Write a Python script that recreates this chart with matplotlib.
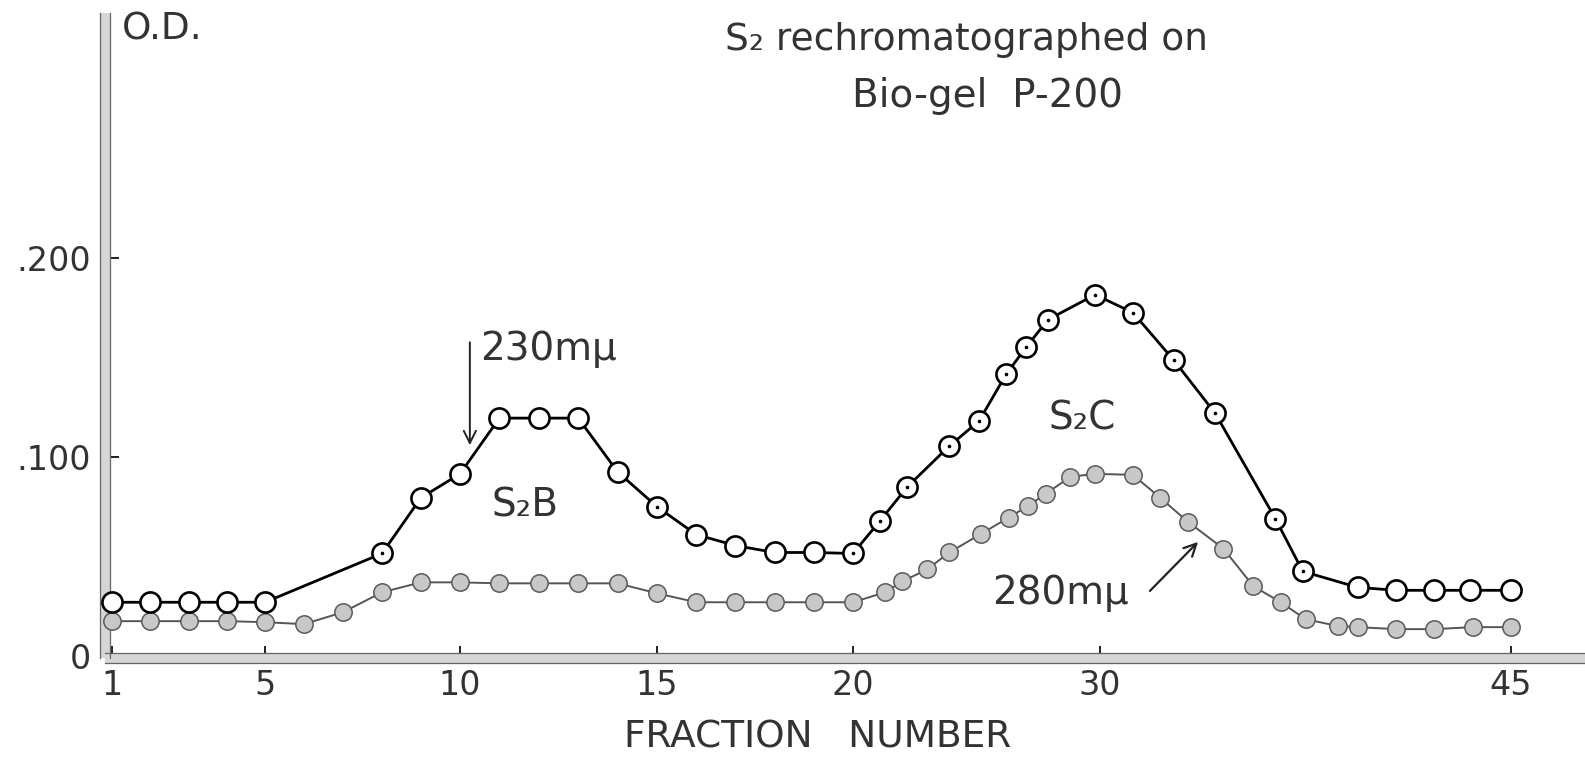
import numpy as np
import matplotlib
matplotlib.use('Agg')
import matplotlib.pyplot as plt
from matplotlib.transforms import offset_copy

# O.D. at 230 mu (open circles) and 280 mu (shaded circles) per fraction
fraction_230 = [1, 2, 3, 4, 5, 8, 9, 10, 11, 12, 13, 14, 15, 16, 17, 18, 19, 20,
                21.1, 22.2, 23.9, 25.1, 26.2, 27.0, 27.9, 29.8,
                31.2, 32.7, 34.2, 36.4, 37.4, 39.4, 40.8, 42.2, 43.5, 45]
od_230 = [0.027, 0.027, 0.027, 0.027, 0.027, 0.0515, 0.0795, 0.0915, 0.1195, 0.1195,
          0.1195, 0.0925, 0.075, 0.061, 0.0555, 0.052, 0.052, 0.0515,
          0.068, 0.085, 0.1055, 0.118, 0.1415, 0.155, 0.169, 0.1815,
          0.1725, 0.1485, 0.122, 0.069, 0.0425, 0.0345, 0.033, 0.033, 0.033, 0.033]
dotted_230 = [8, 15, 20, 21.1, 22.2, 23.9, 25.1, 26.2, 27.0, 27.9, 29.8,
              31.2, 32.7, 34.2, 36.4, 37.4]

fraction_280 = [1, 2, 3, 4, 5, 6, 7, 8, 9, 10, 11, 12, 13, 14, 15, 16, 17, 18, 19, 20,
                21.3, 22.0, 23.0, 23.9, 25.2, 26.3, 27.1, 27.8, 28.8, 29.8,
                31.2, 32.2, 33.2, 34.5, 35.6, 36.6, 37.5, 38.7, 39.4, 40.8, 42.2, 43.6, 45]
od_280 = [0.0175, 0.0175, 0.0175, 0.0175, 0.017, 0.016, 0.022, 0.032, 0.037, 0.037,
          0.0365, 0.0365, 0.0365, 0.0365, 0.0315, 0.027, 0.027, 0.027, 0.027, 0.027,
          0.032, 0.0375, 0.0435, 0.052, 0.0615, 0.0695, 0.0755, 0.0815, 0.09, 0.0915,
          0.091, 0.0795, 0.0675, 0.054, 0.035, 0.027, 0.0185, 0.015, 0.0145, 0.0135,
          0.0135, 0.0145, 0.0145]

x_ticks = [1, 5, 10, 15, 20, 30, 45]
y_ticks = [0, 0.1, 0.2]
y_tick_labels = ['0', '.100', '.200']

# the fraction axis is ruled unevenly: piecewise linear between the labelled fractions
ruler = [112, 265, 460, 657, 853, 1100, 1511]
kf = np.array(x_ticks, float)
kr = np.array(ruler, float)
s0 = (kr[1] - kr[0]) / (kf[1] - kf[0])
s1 = (kr[-1] - kr[-2]) / (kf[-1] - kf[-2])
kf_ext = np.r_[kf[0] - 100, kf, kf[-1] + 100]
kr_ext = np.r_[kr[0] - 100 * s0, kr, kr[-1] + 100 * s1]


def frac_to_ruler(x):
    return np.interp(x, kf_ext, kr_ext)


def ruler_to_frac(r):
    return np.interp(r, kr_ext, kf_ext)


W, H = 1585, 767
ink = '#333333'
plt.rcParams['font.family'] = 'DejaVu Sans'

fig = plt.figure(figsize=(W / 100, H / 100), dpi=100)
ax = fig.add_axes([105 / W, (H - 658) / H, (W - 105) / W, (658 - 13) / H])
ax.set_xscale('function', functions=(frac_to_ruler, ruler_to_frac))
ax.set_xlim(float(ruler_to_frac(105)), float(ruler_to_frac(1585)))
ax.set_ylim(-0.001, 0.323)

# heavy double-ruled axes
for side in ('top', 'right'):
    ax.spines[side].set_visible(False)
for side in ('left', 'bottom'):
    ax.spines[side].set_linewidth(7.2)
    ax.spines[side].set_color('#d6d6d6')
    ax.spines[side].set_capstyle('butt')
for d in (-5, 5):
    ax.plot([0, 1], [0, 0], color='#666666', lw=0.9, clip_on=False, zorder=2.6,
            transform=offset_copy(ax.transAxes, fig=fig, x=0, y=d, units='dots'))
    ax.plot([0, 0], [0, 1], color='#666666', lw=0.9, clip_on=False, zorder=2.6,
            transform=offset_copy(ax.transAxes, fig=fig, x=d, y=0, units='dots'))

ax.set_xticks(x_ticks)
ax.set_xticklabels([str(t) for t in x_ticks])
ax.set_yticks(y_ticks)
ax.set_yticklabels(y_tick_labels)
ax.minorticks_off()
ax.tick_params(axis='x', direction='in', length=9, width=1.4, color='#222222',
               labelsize=24, labelcolor=ink, pad=8)
ax.tick_params(axis='y', direction='in', length=10, width=1.4, color='#222222',
               labelsize=24, labelcolor=ink, pad=10)

ax.plot(fraction_280, od_280, '-', color='#555555', lw=1.4, zorder=3, clip_on=False)
ax.plot(fraction_280, od_280, 'o', ms=12.5, mfc='#c8c8c8', mec='#5a5a5a', mew=1.1,
        zorder=4, clip_on=False)

ax.plot(fraction_230, od_230, '-', color='black', lw=2.0, zorder=5, clip_on=False)
ax.plot(fraction_230, od_230, 'o', ms=14.5, mfc='white', mec='black', mew=1.9,
        zorder=6, clip_on=False)
dots = [(x, y) for x, y in zip(fraction_230, od_230) if x in dotted_230]
ax.plot([p[0] for p in dots], [p[1] for p in dots], 'o', ms=1.6, color='black',
        zorder=7)

ax.text(10.5, 0.154, '230mμ', fontsize=28, color=ink, ha='left', va='center')
ax.annotate('', xy=(10.25, 0.1045), xytext=(10.25, 0.159),
            arrowprops=dict(arrowstyle='->', lw=1.4, color='#222222',
                            mutation_scale=22))
ax.text(11.65, 0.070, 'S₂B', fontsize=28, color=ink, ha='center', va='baseline')
ax.text(29.27, 0.1136, 'S₂C', fontsize=28, color=ink, ha='center', va='baseline')
ax.text(25.63, 0.0317, '280mμ', fontsize=28, color=ink, ha='left', va='center')
ax.annotate('', xy=(33.65, 0.0583), xytext=(31.75, 0.0317),
            arrowprops=dict(arrowstyle='->', lw=1.6, color='#222222',
                            mutation_scale=22))

fig.text(122 / W, 1 - 30 / H, 'O.D.', fontsize=27, color=ink, ha='left', va='center')
fig.text(966 / W, 1 - 40 / H, 'S₂ rechromatographed on', fontsize=27, color=ink,
         ha='center', va='center')
fig.text(988 / W, 1 - 96 / H, 'Bio-gel  P-200', fontsize=28, color=ink,
         ha='center', va='center')
fig.text(818 / W, 1 - 738 / H, 'FRACTION   NUMBER', fontsize=27, color=ink,
         ha='center', va='center')

fig.savefig('out.png', dpi=100, facecolor='white')
